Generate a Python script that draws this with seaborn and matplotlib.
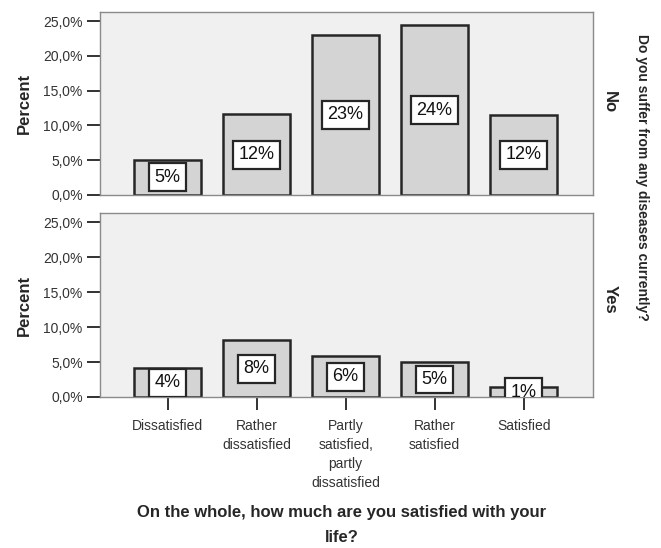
import matplotlib
matplotlib.use("Agg")
import matplotlib.pyplot as plt
import seaborn as sns
import pandas as pd
from matplotlib.ticker import FuncFormatter

categories = ["Dissatisfied", "Rather\ndissatisfied", "Partly\nsatisfied,\npartly\ndissatisfied",
              "Rather\nsatisfied", "Satisfied"]
groups = ["No", "Yes"]
valuesNo = [5.1, 11.6, 23.0, 24.4, 11.5]
valuesYes = [4.1, 8.1, 5.8, 5.0, 1.4]

sns.set_style("white")
plt.rcParams["font.family"] = ["Liberation Sans", "DejaVu Sans"]

fig = plt.figure(figsize=(6.61, 5.48), dpi=100)
left, width = 100 / 661, 493 / 661
axTop = fig.add_axes([left, 1 - 195 / 548, width, 183 / 548])
axBottom = fig.add_axes([left, 1 - 397 / 548, width, 184 / 548])

barColor = "#d4d4d4"
edgeColor = "#262626"

for ax, group, values in zip([axTop, axBottom], groups, [valuesNo, valuesYes]):
    df = pd.DataFrame({"category": categories, "percent": values})
    sns.barplot(data=df, x="category", y="percent", ax=ax, color=barColor,
                edgecolor=edgeColor, linewidth=1.8, width=0.75, saturation=1)
    labels = [f"{round(v)}%" for v in values]
    ax.bar_label(ax.containers[0], labels=labels, label_type="center", fontsize=13,
                 color="#111111", clip_on=True,
                 bbox=dict(boxstyle="square,pad=0.3", facecolor="white",
                           edgecolor=edgeColor, linewidth=1.6))
    ax.set_facecolor("#f0f0f0")
    for spine in ax.spines.values():
        spine.set_visible(True)
        spine.set_color("#8a8a8a")
        spine.set_linewidth(1.0)
    ax.set_xlim(-0.76, 4.78)
    ax.set_ylim(0, 26.3)
    ax.set_yticks([0, 5, 10, 15, 20, 25])
    ax.yaxis.set_major_formatter(FuncFormatter(lambda v, p: f"{v:.1f}%".replace(".", ",")))
    ax.tick_params(axis="y", direction="out", length=9.5, width=1.3, color="#222222",
                   labelsize=10, pad=3, labelcolor="#333333", left=True)
    ax.set_ylabel("Percent", fontsize=12, fontweight="bold")
    ax.yaxis.set_label_coords(-0.138, 0.5)
    ax.set_xlabel("")
    ax.text(1.034, 0.51 if group == "No" else 0.53, group, transform=ax.transAxes,
            rotation=270, ha="center", va="center", fontsize=12, fontweight="bold")

axTop.tick_params(axis="x", bottom=False, labelbottom=False)
axBottom.tick_params(axis="x", direction="out", length=9, width=1.3, color="#222222",
                     labelsize=10, pad=7, labelcolor="#333333", bottom=True)
for lbl in axBottom.get_xticklabels():
    lbl.set_linespacing(1.45)
    lbl.set_verticalalignment("top")

fig.text(342 / 661, 1 - 525 / 548, "On the whole, how much are you satisfied with your\nlife?",
         ha="center", va="center", fontsize=12, fontweight="bold", linespacing=1.8)
fig.text(642 / 661, 1 - 177 / 548, "Do you suffer from any diseases currently?",
         rotation=270, ha="center", va="center", fontsize=10, fontweight="bold")

fig.savefig("out.png", dpi=100)
